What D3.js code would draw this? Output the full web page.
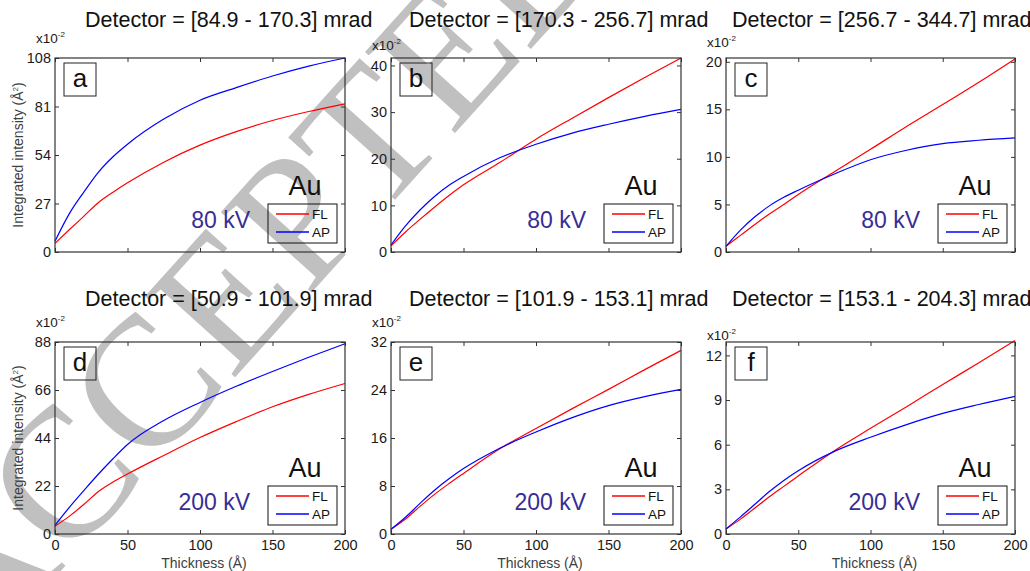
<!DOCTYPE html>
<html>
<head>
<meta charset="utf-8">
<script src="https://cdn.jsdelivr.net/npm/d3@7"></script>
<style>
	body { margin: 0; background: #fff; }
	svg { font-family: "Liberation Sans", Arial, sans-serif; display: block; }
</style>
</head>
<body>
<div id="chart"></div>
<script>

// thickness grid (Angstrom) shared by every curve
let thickness = [ 0, 10, 20, 30, 40, 50, 75, 100, 125, 150, 175, 200 ];
let x_ticks = [ 0, 50, 100, 150, 200 ];

let panel_letters = [ "a", "b", "c", "d", "e", "f" ];
let detector_titles = [
	"Detector = [84.9 - 170.3] mrad",
	"Detector = [170.3 - 256.7] mrad",
	"Detector = [256.7 - 344.7] mrad",
	"Detector = [50.9 - 101.9] mrad",
	"Detector = [101.9 - 153.1] mrad",
	"Detector = [153.1 - 204.3] mrad"
];
let voltages = [ "80 kV", "80 kV", "80 kV", "200 kV", "200 kV", "200 kV" ];
let element_name = "Au";
let series_names = [ "FL", "AP" ];

// y axes, in units of 10^-2
let y_ticks = [
	[ 0, 27, 54, 81, 108 ],
	[ 0, 10, 20, 30, 40 ],
	[ 0, 5, 10, 15, 20 ],
	[ 0, 22, 44, 66, 88 ],
	[ 0, 8, 16, 24, 32 ],
	[ 0, 3, 6, 9, 12 ]
];
let y_max = [ 108, 41.6, 20.4, 88, 32, 12.9 ];

let fl_a = [ 4.8, 12.5, 20, 27.6, 33.3, 38.5, 50, 59.5, 67, 73.2, 78.2, 82.5 ];
let ap_a = [ 6, 21.5, 33.5, 44.5, 53, 60, 74, 84.5, 91.5, 98, 103.5, 108 ];

let fl_b = [ 1.3, 4.3, 7.0, 9.6, 12.1, 14.4, 19.2, 24.2, 28.7, 33.1, 37.4, 41.6 ];
let ap_b = [ 1.5, 5.6, 9.0, 11.9, 14.3, 16.2, 20.2, 23.1, 25.5, 27.4, 29.1, 30.6 ];

let fl_c = [ 0.6, 1.75, 2.9, 4.0, 5.0, 6.05, 8.45, 10.8, 13.2, 15.5, 17.85, 20.3 ];
let ap_c = [ 0.6, 2.3, 3.7, 4.85, 5.75, 6.5, 8.2, 9.7, 10.7, 11.4, 11.75, 12.0 ];

let fl_d = [ 3.6, 8.2, 13.6, 19.5, 23.8, 27.5, 36, 44.2, 51.5, 58.3, 64, 69 ];
let ap_d = [ 4, 12.3, 20, 27.5, 34.5, 41, 52, 60.3, 67.7, 74.5, 81, 87.2 ];

let fl_e = [ 0.8, 2.5, 4.6, 6.6, 8.4, 10.1, 14.2, 17.6, 20.9, 24.1, 27.4, 30.6 ];
let ap_e = [ 0.8, 2.8, 5.1, 7.3, 9.2, 10.9, 14.3, 17.0, 19.4, 21.4, 22.9, 24.1 ];

let fl_f = [ 0.34, 1.0, 1.75, 2.5, 3.2, 3.9, 5.6, 7.1, 8.55, 10.05, 11.5, 13.0 ];
let ap_f = [ 0.34, 1.15, 2.0, 2.85, 3.6, 4.25, 5.55, 6.5, 7.35, 8.1, 8.7, 9.25 ];

let fl_series = [ fl_a, fl_b, fl_c, fl_d, fl_e, fl_f ];
let ap_series = [ ap_a, ap_b, ap_c, ap_d, ap_e, ap_f ];

let watermark_text = "ACCEPTED MANUSCRIPT";

///////////////////////////////////////////////////////////////////////

let width = 1030, height = 571;

let cols = [ { left: 55, right: 345 }, { left: 391, right: 681 }, { left: 726, right: 1015 } ];
let rows = [ { top: 58, bottom: 252 }, { top: 342, bottom: 534 } ];
let title_x = [ 85, 409, 732 ];
let title_y = [ 27, 306 ];

let red = "#ff0000", blue = "#0000ff", kv_color = "#372d96";

let svg = d3.select( "#chart" )
	.append( "svg" )
		.attr( "width", width )
		.attr( "height", height );

draw_watermark( svg );

for( let i = 0; i < 6; i++ ) draw_panel( svg, i );

function draw_watermark( svg )	{

	svg.append( "text" )
		.attr( "transform", "translate(-23,664) rotate(-48)" )
		.attr( "font-family", "'Liberation Serif', 'Times New Roman', serif" )
		.attr( "font-size", 185 )
		.attr( "fill", "#c0c0c0" )
		.text( watermark_text );
}

function draw_panel( svg, i )	{

	let col = cols[ i % 3 ], row = rows[ Math.floor( i / 3 ) ];
	let bottom_row = i >= 3;
	let L = col.left, R = col.right, T = row.top, B = row.bottom;

	let x = d3.scaleLinear().domain( [ 0, 200 ] ).range( [ L, R ] );
	let y = d3.scaleLinear().domain( [ 0, y_max[ i ] ] ).range( [ B, T ] );

	let g = svg.append( "g" );

	// title
	g.append( "text" )
		.attr( "x", title_x[ i % 3 ] )
		.attr( "y", title_y[ Math.floor( i / 3 ) ] )
		.attr( "font-size", 21.5 )
		.attr( "fill", "#111" )
		.text( detector_titles[ i ] );

	// ticks, all pointing inwards
	let ax_bottom = g.append( "g" )
		.attr( "transform", `translate(0,${B})` )
		.call( d3.axisBottom( x ).tickValues( x_ticks ).tickSizeInner( -4 ).tickSizeOuter( 0 ).tickPadding( 6 )
			.tickFormat( bottom_row ? d3.format( "d" ) : "" ) );
	let ax_top = g.append( "g" )
		.attr( "transform", `translate(0,${T})` )
		.call( d3.axisTop( x ).tickValues( x_ticks ).tickSizeInner( -4 ).tickSizeOuter( 0 ).tickFormat( "" ) );
	let ax_left = g.append( "g" )
		.attr( "transform", `translate(${L},0)` )
		.call( d3.axisLeft( y ).tickValues( y_ticks[ i ] ).tickSizeInner( -4 ).tickSizeOuter( 0 ).tickPadding( 4 )
			.tickFormat( d3.format( "d" ) ) );
	let ax_right = g.append( "g" )
		.attr( "transform", `translate(${R},0)` )
		.call( d3.axisRight( y ).tickValues( y_ticks[ i ] ).tickSizeInner( -4 ).tickSizeOuter( 0 ).tickFormat( "" ) );

	[ ax_bottom, ax_top, ax_left, ax_right ].forEach( ax => {
		ax.select( ".domain" ).remove();
		ax.selectAll( "line" ).attr( "stroke", "#333" );
		ax.attr( "font-family", null ).attr( "font-size", 14.5 );
		ax.selectAll( "text" ).attr( "fill", "#1a1a1a" );
	} );

	// exponent label
	let top_tick = y( y_ticks[ i ][ y_ticks[ i ].length - 1 ] );
	let ex = g.append( "text" )
		.attr( "x", L - 19 )
		.attr( "y", top_tick - 15 )
		.attr( "font-size", 13.5 )
		.attr( "fill", "#1a1a1a" );
	ex.append( "tspan" ).text( "x10" );
	ex.append( "tspan" ).attr( "dy", -6 ).attr( "font-size", 8 ).text( "-2" );

	// curves
	let line = d3.line()
		.x( ( d, k ) => x( thickness[ k ] ) )
		.y( d => y( d ) )
		.curve( d3.curveMonotoneX );

	g.append( "path" )
		.attr( "d", line( fl_series[ i ] ) )
		.attr( "fill", "none" )
		.attr( "stroke", red )
		.attr( "stroke-width", 1.2 );
	g.append( "path" )
		.attr( "d", line( ap_series[ i ] ) )
		.attr( "fill", "none" )
		.attr( "stroke", blue )
		.attr( "stroke-width", 1.2 );

	// frame
	g.append( "rect" )
		.attr( "x", L ).attr( "y", T )
		.attr( "width", R - L ).attr( "height", B - T )
		.attr( "fill", "none" )
		.attr( "stroke", "#333" )
		.attr( "stroke-width", 1.2 );

	// panel letter
	g.append( "rect" )
		.attr( "x", L + 9 ).attr( "y", T + 5 )
		.attr( "width", 32 ).attr( "height", 33 )
		.attr( "fill", "none" )
		.attr( "stroke", "#222" )
		.attr( "stroke-width", 1 );
	g.append( "text" )
		.attr( "x", L + 25 ).attr( "y", T + 29 )
		.attr( "text-anchor", "middle" )
		.attr( "font-size", 26 )
		.attr( "fill", "#111" )
		.text( panel_letters[ i ] );

	// element + voltage
	g.append( "text" )
		.attr( "x", R - 40 ).attr( "y", B - 57 )
		.attr( "text-anchor", "middle" )
		.attr( "font-size", 27 )
		.attr( "fill", "#111" )
		.text( element_name );
	g.append( "text" )
		.attr( "x", R - 95 ).attr( "y", B - 24 )
		.attr( "text-anchor", "end" )
		.attr( "font-size", 23 )
		.attr( "fill", kv_color )
		.text( voltages[ i ] );

	// legend
	let lg = g.append( "g" ).attr( "transform", `translate(${R - 77},${B - 48})` );
	lg.append( "rect" )
		.attr( "width", 69 ).attr( "height", 39 )
		.attr( "fill", "none" )
		.attr( "stroke", "#111" )
		.attr( "stroke-width", 1 );
	[ red, blue ].forEach( ( c, k ) => {
		let ly = 10 + k * 18;
		lg.append( "line" )
			.attr( "x1", 8 ).attr( "x2", 41 )
			.attr( "y1", ly ).attr( "y2", ly )
			.attr( "stroke", c )
			.attr( "stroke-width", 1.4 );
		lg.append( "text" )
			.attr( "x", 44 ).attr( "y", ly + 5 )
			.attr( "font-size", 13.5 )
			.attr( "fill", "#111" )
			.text( series_names[ k ] );
	} );

	// axis labels
	if( i % 3 == 0 )	{
		let yl = g.append( "text" )
			.attr( "transform", `translate(23,${( T + B ) / 2}) rotate(-90)` )
			.attr( "text-anchor", "middle" )
			.attr( "font-size", 14 )
			.attr( "fill", "#404040" );
		yl.append( "tspan" ).text( "Integrated intensity (Å" );
		yl.append( "tspan" ).attr( "dy", -5 ).attr( "font-size", 8 ).text( "2" );
		yl.append( "tspan" ).attr( "dy", 5 ).text( ")" );
	}
	if( bottom_row )	{
		g.append( "text" )
			.attr( "x", ( L + R ) / 2 + 4 ).attr( "y", 568 )
			.attr( "text-anchor", "middle" )
			.attr( "font-size", 14 )
			.attr( "fill", "#404040" )
			.text( "Thickness (Å)" );
	}
}

</script>
</body>
</html>
